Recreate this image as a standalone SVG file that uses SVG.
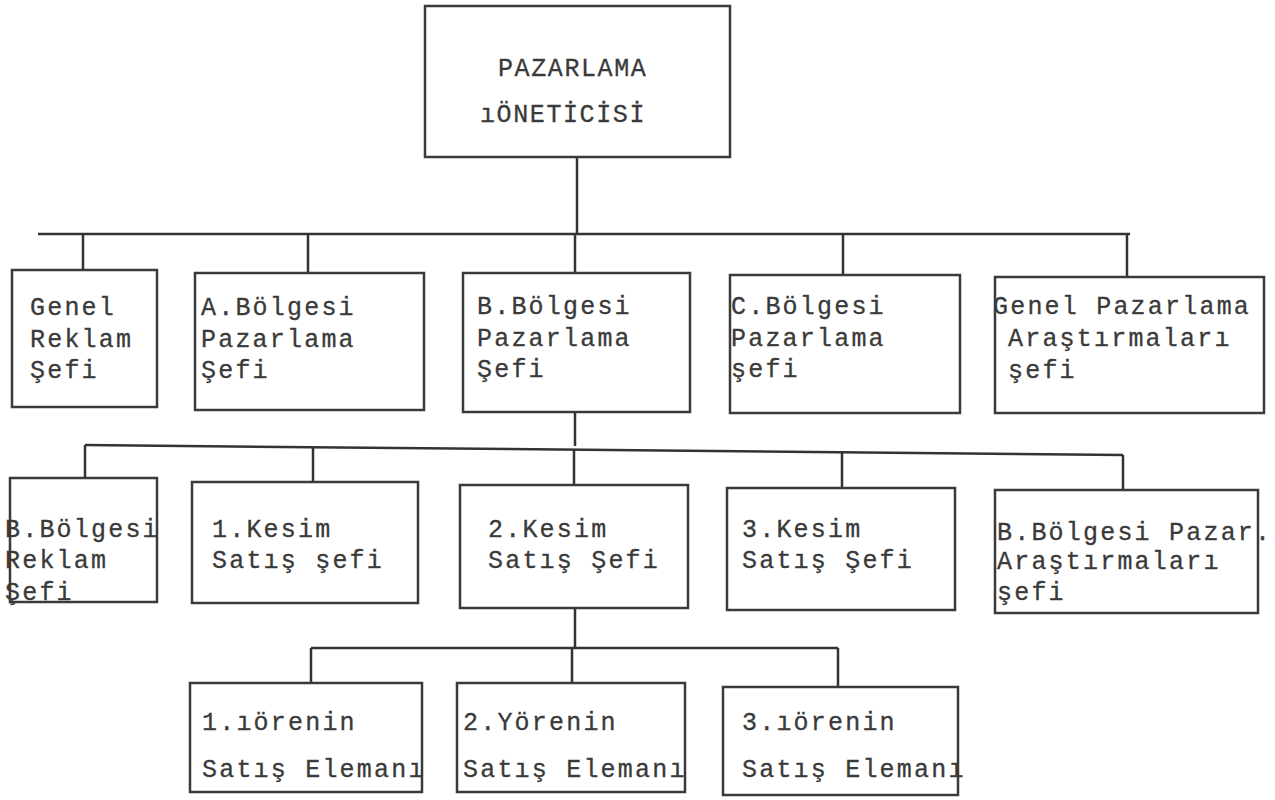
<svg xmlns="http://www.w3.org/2000/svg" width="1275" height="800" viewBox="0 0 1275 800">
<style>
.bg{fill:#fff}
.box{fill:none;stroke:#3a3a3a;stroke-width:2.5}
.ln{fill:none;stroke:#333;stroke-width:2.5}
.t{font-family:"Liberation Mono","DejaVu Sans Mono",monospace;font-size:25px;letter-spacing:2.2px;fill:#3a3a3a;stroke:#3a3a3a;stroke-width:0.3}
.h{font-family:"Liberation Mono","DejaVu Sans Mono",monospace;font-size:25px;letter-spacing:1.6px;fill:#3a3a3a;stroke:#3a3a3a;stroke-width:0.3}
</style>
<rect class="bg" x="0" y="0" width="1275" height="800"/>
<g id="connectors">
<path class="ln" d="M577 157 V234"/>
<path class="ln" d="M38 234 H1130"/>
<path class="ln" d="M83 234 V270 M308 234 V273 M575 234 V273 M843 234 V275 M1127 234 V277"/>
<path class="ln" d="M575 412 V446"/>
<path class="ln" d="M85 445 L1123 455"/>
<path class="ln" d="M85 445 V478 M313 447 V482 M574 449 V485 M842 451 V488 M1123 455 V490"/>
<path class="ln" d="M575 608 V648"/>
<path class="ln" d="M311 648 H838"/>
<path class="ln" d="M311 648 V683 M572 648 V683 M838 648 V687"/>
</g>
<g id="n0">
<rect class="box" x="425" y="6" width="305" height="151"/>
<text class="h" x="498" y="76">PAZARLAMA</text>
<text class="h" x="480" y="122">ıÖNETİCİSİ</text>
</g>
<g id="n1">
<rect class="box" x="12" y="270" width="145" height="137"/>
<text class="t" x="30" y="315">Genel</text>
<text class="t" x="30" y="347">Reklam</text>
<text class="t" x="30" y="378">Şefi</text>
</g>
<g id="n2">
<rect class="box" x="195" y="273" width="229" height="137"/>
<text class="t" x="201" y="315">A.Bölgesi</text>
<text class="t" x="201" y="347">Pazarlama</text>
<text class="t" x="201" y="378">Şefi</text>
</g>
<g id="n3">
<rect class="box" x="463" y="273" width="227" height="139"/>
<text class="t" x="477" y="314">B.Bölgesi</text>
<text class="t" x="477" y="346">Pazarlama</text>
<text class="t" x="477" y="377">Şefi</text>
</g>
<g id="n4">
<rect class="box" x="730" y="275" width="230" height="138"/>
<text class="t" x="731" y="314">C.Bölgesi</text>
<text class="t" x="731" y="346">Pazarlama</text>
<text class="t" x="731" y="377">şefi</text>
</g>
<g id="n5">
<rect class="box" x="995" y="277" width="269" height="136"/>
<text class="t" x="993" y="314">Genel Pazarlama</text>
<text class="t" x="1008" y="346">Araştırmaları</text>
<text class="t" x="1008" y="378">şefi</text>
</g>
<g id="n6">
<rect class="box" x="10" y="478" width="147" height="124"/>
<text class="t" x="5" y="537">B.Bölgesi</text>
<text class="t" x="5" y="568">Reklam</text>
<text class="t" x="5" y="600">Şefi</text>
</g>
<g id="n7">
<rect class="box" x="192" y="482" width="226" height="121"/>
<text class="t" x="212" y="537">1.Kesim</text>
<text class="t" x="212" y="568">Satış şefi</text>
</g>
<g id="n8">
<rect class="box" x="460" y="485" width="228" height="123"/>
<text class="t" x="488" y="537">2.Kesim</text>
<text class="t" x="488" y="568">Satış Şefi</text>
</g>
<g id="n9">
<rect class="box" x="727" y="488" width="228" height="122"/>
<text class="t" x="742" y="537">3.Kesim</text>
<text class="t" x="742" y="568">Satış Şefi</text>
</g>
<g id="n10">
<rect class="box" x="995" y="490" width="263" height="123"/>
<text class="t" x="997" y="540">B.Bölgesi Pazar.</text>
<text class="t" x="997" y="569">Araştırmaları</text>
<text class="t" x="997" y="600">şefi</text>
</g>
<g id="n11">
<rect class="box" x="190" y="683" width="232" height="109"/>
<text class="t" x="202" y="730">1.ıörenin</text>
<text class="t" x="202" y="777">Satış Elemanı</text>
</g>
<g id="n12">
<rect class="box" x="457" y="683" width="228" height="109"/>
<text class="t" x="463" y="730">2.Yörenin</text>
<text class="t" x="463" y="777">Satış Elemanı</text>
</g>
<g id="n13">
<rect class="box" x="723" y="687" width="235" height="108"/>
<text class="t" x="742" y="730">3.ıörenin</text>
<text class="t" x="742" y="777">Satış Elemanı</text>
</g>
</svg>
